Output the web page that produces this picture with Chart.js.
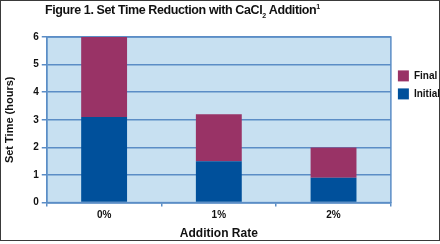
<!DOCTYPE html>
<html>
<head>
<meta charset="utf-8">
<script src="https://cdn.jsdelivr.net/npm/chart.js@4/dist/chart.umd.min.js"></script>
<style>
  body { margin: 0; background: #fff; }
  #wrap { position: relative; width: 440px; height: 244px; }
  #frame { position: absolute; left: 0; top: 0; width: 440px; height: 241px;
           box-sizing: border-box; border: 1px solid #3a3a3a; pointer-events: none; }
  #title { position: absolute; left: 45px; top: 3px; font: bold 12.5px "Liberation Sans", Arial, sans-serif;
           letter-spacing: -0.4px; color: #111; white-space: nowrap; }
  #title sub, #title sup { font-size: 7px; line-height: 0; letter-spacing: 0; }
  canvas { position: absolute; left: 0; top: 0; }
</style>
</head>
<body>
<div id="wrap">
  <canvas id="chart" width="440" height="244"></canvas>
  <div id="title">Figure 1. Set Time Reduction with CaCl<sub>2</sub> Addition<sup>1</sup></div>
  <div id="frame"></div>
</div>
<script>
// Data
const categories = ['0%', '1%', '2%'];
const initialHours = [3.1, 1.5, 0.9];
const finalHours = [6.0, 3.2, 2.0];
const seriesLabels = ['Initial', 'Final'];

const gridBlue = '#5b8dc6';

// Final bar segment sits on top of the initial one
const finalSegment = finalHours.map((v, i) => +(v - initialHours[i]).toFixed(2));

// Light blue plot background with a frame
const plotBackground = {
  id: 'plotBackground',
  beforeDraw(chart) {
    const { ctx, chartArea: a } = chart;
    ctx.save();
    ctx.fillStyle = '#c7e0f1';
    ctx.fillRect(a.left, a.top, a.right - a.left, a.bottom - a.top);
    ctx.strokeStyle = gridBlue;
    ctx.lineWidth = 1.5;
    ctx.strokeRect(a.left, a.top, a.right - a.left, a.bottom - a.top);
    ctx.restore();
  }
};

const font = { family: '"Liberation Sans", Arial, sans-serif', weight: 'bold' };

new Chart(document.getElementById('chart'), {
  type: 'bar',
  data: {
    labels: categories,
    datasets: [{
      label: seriesLabels[0],
      data: initialHours,
      backgroundColor: '#00509b'
    }, {
      label: seriesLabels[1],
      data: finalSegment,
      backgroundColor: '#993366'
    }]
  },
  options: {
    responsive: false,
    animation: false,
    layout: { padding: { top: 37, left: 3, right: -10, bottom: 3 } },
    datasets: { bar: { barPercentage: 0.4, categoryPercentage: 1 } },
    scales: {
      x: {
        stacked: true,
        grid: { display: true, drawOnChartArea: false, color: gridBlue, lineWidth: 1.5, tickLength: 4 },
        border: { color: gridBlue, width: 1.5 },
        ticks: { color: '#111', font: { ...font, size: 10 }, padding: 3 },
        title: { display: true, text: 'Addition Rate', color: '#111', font: { ...font, size: 12 }, padding: { top: 2, bottom: 0 } }
      },
      y: {
        stacked: true,
        min: 0,
        max: 6,
        grid: { color: gridBlue, lineWidth: 1.5, tickLength: 5 },
        border: { color: gridBlue, width: 1.5 },
        ticks: { stepSize: 1, color: '#111', font: { ...font, size: 10 }, padding: 3 },
        title: { display: true, text: 'Set Time (hours)', color: '#111', font: { ...font, size: 11 }, padding: { top: 0, bottom: 14 } }
      }
    },
    plugins: {
      legend: {
        position: 'right',
        align: 'start',
        reverse: true,
        title: { display: true, text: ' ', padding: { top: 12, bottom: 0 } },
        labels: { boxWidth: 11, boxHeight: 11, padding: 7, color: '#111', font: { ...font, size: 10 } }
      },
      tooltip: { enabled: false }
    }
  },
  plugins: [plotBackground]
});
</script>
</body>
</html>
